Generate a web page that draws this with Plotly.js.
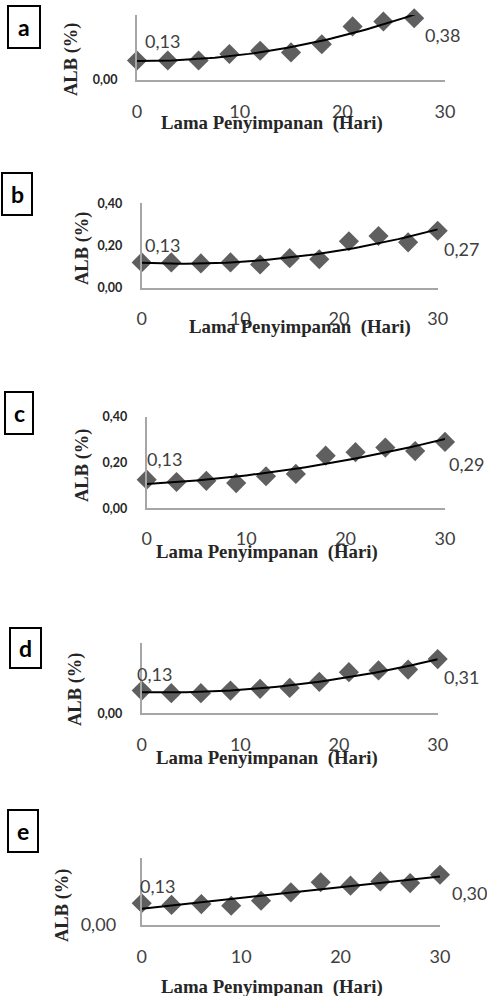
<!DOCTYPE html>
<html><head><meta charset="utf-8">
<script src="https://cdn.plot.ly/plotly-3.0.1.min.js"></script>
<style>html,body{margin:0;padding:0;background:#fff;overflow:hidden}#chart{width:487px;height:996px}</style>
</head><body><div id="chart"></div>
<script>
// ---- data ----
const panelLetters = ['a', 'b', 'c', 'd', 'e'];
const daysA = [0, 3, 6, 9, 12, 15, 18, 21, 24, 27];
const days = [0, 3, 6, 9, 12, 15, 18, 21, 24, 27, 30];
const albA = [0.12, 0.12, 0.12, 0.16, 0.18, 0.17, 0.22, 0.33, 0.36, 0.38];
const albB = [0.12, 0.12, 0.115, 0.12, 0.11, 0.14, 0.135, 0.22, 0.245, 0.215, 0.27];
const albC = [0.125, 0.115, 0.12, 0.11, 0.14, 0.15, 0.23, 0.245, 0.265, 0.25, 0.29];
const albD = [0.13, 0.115, 0.115, 0.13, 0.14, 0.145, 0.18, 0.235, 0.245, 0.25, 0.31];
const albE = [0.13, 0.12, 0.125, 0.115, 0.145, 0.195, 0.255, 0.235, 0.26, 0.25, 0.30];
const firstLabels = ['0,13', '0,13', '0,13', '0,13', '0,13'];
const lastLabels = ['0,38', '0,27', '0,29', '0,31', '0,30'];
const xTickVals = [0, 10, 20, 30];
const xTickText = ['0', '10', '20', '30'];
const yTickValsFull = [0, 0.2, 0.4];
const yTickTextFull = ['0,00', '0,20', '0,40'];
const yTickValsZero = [0];
const yTickTextZero = ['0,00'];
const xTitle = 'Lama Penyimpanan\u00a0 (Hari)';
const yTitle = 'ALB (%)';

const panelX = [daysA, days, days, days, days];
const panelY = [albA, albB, albC, albD, albE];
const panelYTicks = [[yTickValsZero, yTickTextZero], [yTickValsFull, yTickTextFull], [yTickValsFull, yTickTextFull], [yTickValsZero, yTickTextZero], [yTickValsZero, yTickTextZero]];
const trendDegree = [2, 2, 2, 2, 1];
const trendForward = [1.4, 0, 0, 0, 0];

// ---- layout geometry (px) ----
const W = 487, H = 996;
const plotBox = [[137, 445, 15, 80], [141.7, 437.7, 203.3, 287.7], [146.7, 445, 416.7, 508.3], [141.7, 437.7, 643.3, 713.3], [141.7, 440, 858, 925]];
const letterBox = [[8, 40, 6, 48], [2, 32, 173, 215], [5, 33, 392, 434], [10, 41, 628, 668], [8, 38, 810, 852]];
const yTitlePos = [[72, 59], [82, 248], [82, 465], [75, 689], [62, 905]];
const xTitlePos = [[272, 123], [300, 327], [267, 552], [267, 758], [272, 987]];
const xTickStandoff = [14, 14, 13, 14, 14];
const firstShift = [[6, 19], [1, 17], [-2, 21], [-7, 17], [-4, 17]];
const lastShift = [[9, -17], [4, -18], [2, -22], [4, -18], [10, -18]];

const px = v => v / W, py = v => 1 - v / H;

function polyfit(xs, ys, deg) {
  const n = deg + 1;
  const A = Array.from({length: n}, () => new Array(n + 1).fill(0));
  for (let i = 0; i < xs.length; i++) {
    for (let r = 0; r < n; r++) {
      for (let c = 0; c < n; c++) A[r][c] += Math.pow(xs[i], r + c);
      A[r][n] += ys[i] * Math.pow(xs[i], r);
    }
  }
  for (let k = 0; k < n; k++) {
    let p = k;
    for (let r = k + 1; r < n; r++) if (Math.abs(A[r][k]) > Math.abs(A[p][k])) p = r;
    [A[k], A[p]] = [A[p], A[k]];
    for (let r = 0; r < n; r++) {
      if (r === k) continue;
      const f = A[r][k] / A[k][k];
      for (let c = k; c <= n; c++) A[r][c] -= f * A[k][c];
    }
  }
  return A.map((row, i) => row[n] / row[i]);
}

const sans = 'Lato, "Open Sans", sans-serif';
const serif = '"Liberation Serif", "Times New Roman", serif';
const textCol = '#404040';
const traces = [];
const layout = {
  width: W, height: H, margin: {l: 0, r: 0, t: 0, b: 0},
  paper_bgcolor: '#fff', plot_bgcolor: 'rgba(0,0,0,0)', showlegend: false,
  annotations: [], shapes: []
};

for (let i = 0; i < 5; i++) {
  const sfx = i === 0 ? '' : String(i + 1);
  const xa = 'x' + sfx, ya = 'y' + sfx;
  const xs = panelX[i], ys = panelY[i];
  const coef = polyfit(xs, ys, trendDegree[i]);
  const x0 = xs[0], x1 = xs[xs.length - 1] + trendForward[i];
  const tx = [], ty = [];
  for (let k = 0; k <= 60; k++) {
    const t = x0 + (x1 - x0) * k / 60;
    tx.push(t);
    ty.push(coef.reduce((s, c, j) => s + c * Math.pow(t, j), 0));
  }
  traces.push({x: xs, y: ys, xaxis: xa, yaxis: ya, type: 'scatter', mode: 'markers', cliponaxis: false,
    marker: {symbol: 'diamond', size: 15.5, color: '#5f5f5f', line: {width: 0}}, hoverinfo: 'skip'});
  traces.push({x: tx, y: ty, xaxis: xa, yaxis: ya, type: 'scatter', mode: 'lines', cliponaxis: false,
    line: {color: '#000', width: 2}, hoverinfo: 'skip'});

  const b = plotBox[i];
  layout['xaxis' + sfx] = {
    domain: [px(b[0]), px(b[1])], range: [0, 30], anchor: ya,
    showline: true, linecolor: '#a6a6a6', linewidth: 2, showgrid: false, zeroline: false,
    ticks: '', tickvals: xTickVals, ticktext: xTickText, ticklabelstandoff: xTickStandoff[i],
    tickfont: {family: sans, size: 18, color: textCol}
  };
  layout['yaxis' + sfx] = {
    domain: [py(b[3]), py(b[2])], range: [0, 0.4], anchor: xa,
    showline: true, linecolor: '#a6a6a6', linewidth: 2, showgrid: false, zeroline: false,
    ticks: '', tickvals: panelYTicks[i][0], ticktext: panelYTicks[i][1],
    ticklabelstandoff: i === 4 ? 20 : 15,
    tickfont: i === 4 ? {family: sans, size: 18, color: textCol} : {family: sans, size: 12.5, color: '#262626', weight: 'bold'}
  };

  // letter boxes
  const lb = letterBox[i];
  layout.shapes.push({type: 'rect', xref: 'paper', yref: 'paper', x0: px(lb[0]), x1: px(lb[1]), y0: py(lb[3]), y1: py(lb[2]),
    line: {color: '#000', width: 2}, fillcolor: 'rgba(0,0,0,0)'});
  layout.annotations.push({xref: 'paper', yref: 'paper', x: px((lb[0] + lb[1]) / 2), y: py((lb[2] + lb[3]) / 2),
    text: panelLetters[i], showarrow: false, xanchor: 'center', yanchor: 'middle',
    font: {family: sans, size: 23, color: '#000', weight: 'bold'}});

  // axis titles
  layout.annotations.push({xref: 'paper', yref: 'paper', x: px(yTitlePos[i][0]), y: py(yTitlePos[i][1]),
    text: yTitle, textangle: -90, showarrow: false, xanchor: 'center', yanchor: 'middle',
    font: {family: serif, size: 18.5, color: '#262626', weight: 'bold'}});
  layout.annotations.push({xref: 'paper', yref: 'paper', x: px(xTitlePos[i][0]), y: py(xTitlePos[i][1]),
    text: xTitle, showarrow: false, xanchor: 'center', yanchor: 'middle',
    font: {family: serif, size: 18.8, color: '#262626', weight: 'bold'}});

  // data labels
  layout.annotations.push({xref: xa, yref: ya, x: xs[0], y: ys[0], text: firstLabels[i], showarrow: false,
    xanchor: 'left', yanchor: 'middle', xshift: firstShift[i][0], yshift: firstShift[i][1],
    font: {family: sans, size: 18, color: textCol}});
  layout.annotations.push({xref: xa, yref: ya, x: xs[xs.length - 1], y: ys[ys.length - 1], text: lastLabels[i], showarrow: false,
    xanchor: 'left', yanchor: 'middle', xshift: lastShift[i][0], yshift: lastShift[i][1],
    font: {family: sans, size: 18, color: textCol}});
}

Plotly.newPlot('chart', traces, layout, {staticPlot: true, displayModeBar: false});
</script>
</body></html>
